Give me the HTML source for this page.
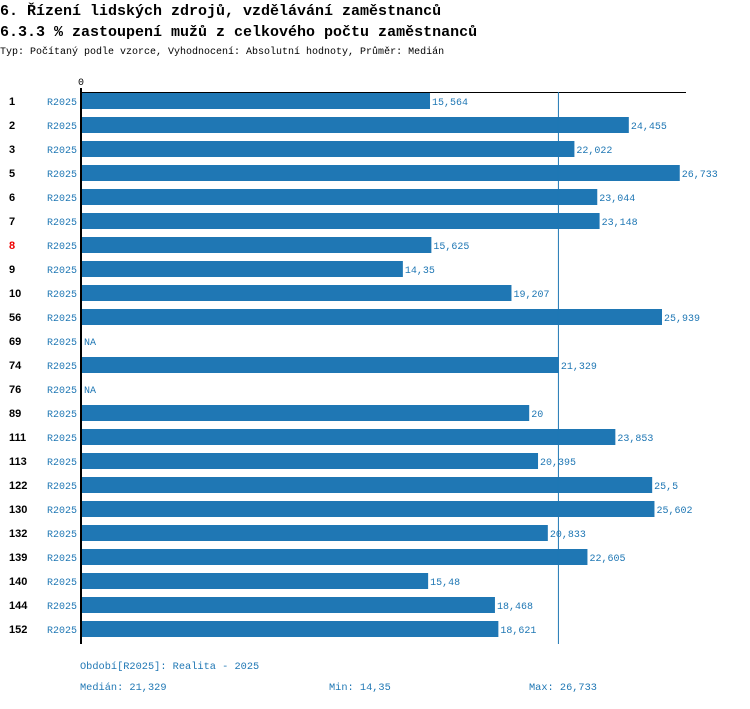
<!DOCTYPE html>
<html><head><meta charset="utf-8"><style>
body{margin:0;background:#fff;width:750px;height:704px;overflow:hidden;font-family:"Liberation Mono",monospace}
</style></head><body>
<svg width="750" height="704" xmlns="http://www.w3.org/2000/svg" font-family="Liberation Mono, monospace">
<text x="0" y="15" font-size="15" font-weight="bold" fill="#000">6. Řízení lidských zdrojů, vzdělávání zaměstnanců</text>
<text x="0" y="36" font-size="15" font-weight="bold" fill="#000">6.3.3 % zastoupení mužů z celkového počtu zaměstnanců</text>
<text x="0" y="54" font-size="10" fill="#000">Typ: Počítaný podle vzorce, Vyhodnocení: Absolutní hodnoty, Průměr: Medián</text>
<text x="78" y="85" font-size="10" fill="#000">0</text>
<g id="bars"></g>
<line x1="80" y1="92.5" x2="686" y2="92.5" stroke="#000" stroke-width="1"/>
<line x1="81" y1="88" x2="81" y2="644" stroke="#000" stroke-width="2"/>
<line id="med" y1="92" y2="644" stroke="#1f77b4" stroke-width="1"/>
<g font-size="10.3" fill="#1f77b4">
<text x="80" y="669">Období[R2025]: Realita - 2025</text>
<text x="80" y="690">Medián: 21,329</text>
<text x="329" y="690">Min: 14,35</text>
<text x="529" y="690">Max: 26,733</text>
</g>
</svg>
<script>
const categories=["1","2","3","5","6","7","8","9","10","56","69","74","76","89","111","113","122","130","132","139","140","144","152"];
const values=[15.564,24.455,22.022,26.733,23.044,23.148,15.625,14.35,19.207,25.939,null,21.329,null,20,23.853,20.395,25.5,25.602,20.833,22.605,15.48,18.468,18.621];
const valueLabels=["15,564","24,455","22,022","26,733","23,044","23,148","15,625","14,35","19,207","25,939","NA","21,329","NA","20","23,853","20,395","25,5","25,602","20,833","22,605","15,48","18,468","18,621"];
const medianValue=21.329;
const highlighted="8";
const NS="http://www.w3.org/2000/svg";
const x0=82,k=22.36;
function xs(v){return x0+v*k;}
function yb(i){return 93+24*i;}
const g=document.getElementById('bars');
const med=document.getElementById('med');
med.setAttribute('x1',xs(medianValue)-0.5);med.setAttribute('x2',xs(medianValue)-0.5);
function t(x,y,s,attrs){const e=document.createElementNS(NS,'text');e.setAttribute('x',x);e.setAttribute('y',y);for(const a in attrs)e.setAttribute(a,attrs[a]);e.textContent=s;g.appendChild(e);return e;}
categories.forEach((c,i)=>{
  const y=yb(i);
  const cl=t(9,y+12,c,{'font-size':'11','font-weight':'bold','fill':c===highlighted?'#e00':'#000','font-family':'Liberation Sans, sans-serif'});
  
  
  const sl=t(47,y+12,'R2025',{'font-size':'10','fill':'#1f77b4'});
  
  
  const v=values[i];
  let end=x0;
  if(v!==null){
    const r=document.createElementNS(NS,'rect');
    r.setAttribute('x',x0);r.setAttribute('y',y);r.setAttribute('width',xs(v)-x0);r.setAttribute('height',16);r.setAttribute('fill','#1f77b4');
    
    
    g.appendChild(r);end=xs(v);
  }
  const vl=t(end+2,y+12,valueLabels[i],{'font-size':'10','fill':'#1f77b4'});
  
  
});
</script>
</body></html>
